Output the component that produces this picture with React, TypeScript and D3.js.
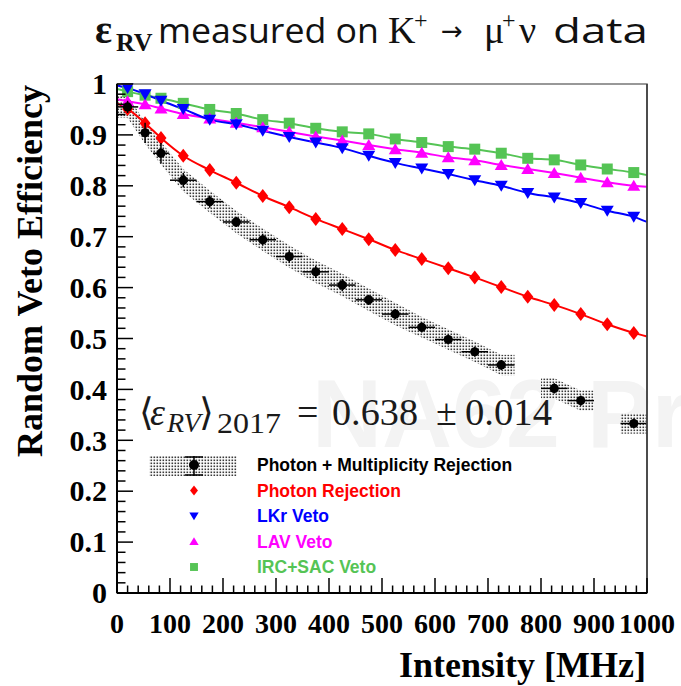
import React from 'react';
import * as d3 from 'd3';

// Beam intensity bin centres [MHz] and half-widths of the bins
const intensity = [20, 53, 83, 125, 175, 225, 275, 325, 375, 425, 475, 525, 575, 625, 675, 725, 775, 825, 875, 925, 975];
const halfBin = [20, 12, 15, 25, 25, 25, 25, 25, 25, 25, 25, 25, 25, 25, 25, 25, 25, 25, 25, 25, 25];

// Photon + multiplicity rejection (null = no measurement in that bin)
const multRej = [0.955, 0.904, 0.864, 0.811, 0.769, 0.729, 0.694, 0.661, 0.631, 0.605, 0.576, 0.548, 0.522, 0.498, 0.474, 0.448, null, 0.402, 0.378, null, 0.333];
const multErr = [0.012, 0.02, 0.02, 0.014, 0.012, 0.01, 0.012, 0.012, 0.012, 0.012, 0.01, 0.01, 0.01, 0.01, 0.01, 0.01, 0.01, 0.01, 0.01, 0.01, 0.01];
const multSyst = [0.022, 0.022, 0.022, 0.022, 0.022, 0.022, 0.022, 0.022, 0.022, 0.022, 0.022, 0.022, 0.02, 0.02, 0.02, 0.02, 0.02, 0.02, 0.02, 0.02, 0.02];

// Single-detector efficiencies
const photonRej = [0.951, 0.923, 0.894, 0.859, 0.831, 0.806, 0.780, 0.758, 0.735, 0.715, 0.695, 0.674, 0.656, 0.638, 0.620, 0.601, 0.582, 0.566, 0.548, 0.528, 0.511];
const lkrVeto = [0.992, 0.980, 0.967, 0.951, 0.930, 0.921, 0.908, 0.896, 0.885, 0.874, 0.859, 0.845, 0.834, 0.823, 0.811, 0.800, 0.786, 0.777, 0.766, 0.751, 0.739];
const lavVeto = [0.966, 0.960, 0.952, 0.941, 0.932, 0.924, 0.915, 0.906, 0.897, 0.889, 0.880, 0.872, 0.865, 0.856, 0.850, 0.841, 0.833, 0.825, 0.816, 0.807, 0.800];
const ircSacVeto = [0.985, 0.978, 0.972, 0.962, 0.950, 0.942, 0.930, 0.923, 0.913, 0.906, 0.902, 0.892, 0.885, 0.877, 0.872, 0.864, 0.854, 0.851, 0.841, 0.833, 0.826];

// Fit curve values at 0 and 1000 MHz
const photonFitEnds = [0.962, 0.504];
const lkrFitEnds = [0.997, 0.729];
const lavFitEnds = [0.970, 0.798];
const ircFitEnds = [0.990, 0.821];

const xTickLabels = ['0', '100', '200', '300', '400', '500', '600', '700', '800', '900', '1000'];
const yTickLabels = ['0', '0.1', '0.2', '0.3', '0.4', '0.5', '0.6', '0.7', '0.8', '0.9', '1'];

const legendLabels = ['Photon + Multiplicity Rejection', 'Photon Rejection', 'LKr Veto', 'LAV Veto', 'IRC+SAC Veto'];

const RED = '#ff0000';
const BLUE = '#0000ff';
const MAGENTA = '#ff00ff';
const GREEN = '#55c455';

const W = 681;
const H = 686;
const x = d3.scaleLinear().domain([0, 1000]).range([117, 647]);
const y = d3.scaleLinear().domain([0, 1]).range([593, 84]);

type Shape = 'diamond' | 'tdown' | 'tup' | 'square';
const markerPath = (s: Shape, k = 1) => {
  const p = d3.path();
  if (s === 'diamond') {
    p.moveTo(0, -7 * k); p.lineTo(5.5 * k, 0); p.lineTo(0, 7 * k); p.lineTo(-5.5 * k, 0);
  } else if (s === 'tdown') {
    p.moveTo(0, 6 * k); p.lineTo(6.5 * k, -5 * k); p.lineTo(-6.5 * k, -5 * k);
  } else if (s === 'tup') {
    p.moveTo(0, -6 * k); p.lineTo(6.5 * k, 5 * k); p.lineTo(-6.5 * k, 5 * k);
  } else {
    p.rect(-5.5 * k, -5.5 * k, 11 * k, 11 * k);
  }
  p.closePath();
  return p.toString();
};

const fitSeries = [
  { values: ircSacVeto, ends: ircFitEnds, color: GREEN, shape: 'square' as Shape },
  { values: lavVeto, ends: lavFitEnds, color: MAGENTA, shape: 'tup' as Shape },
  { values: lkrVeto, ends: lkrFitEnds, color: BLUE, shape: 'tdown' as Shape },
  { values: photonRej, ends: photonFitEnds, color: RED, shape: 'diamond' as Shape },
];

const line = d3
  .line<[number, number]>()
  .x((d) => x(d[0]))
  .y((d) => y(d[1]))
  .curve(d3.curveMonotoneX);

const band = d3
  .area<{ i: number; v: number; s: number }>()
  .x((d) => x(d.i))
  .y0((d) => y(d.v - d.s))
  .y1((d) => y(d.v + d.s));

// Contiguous runs of measured bins, widened to the outer bin edges
const bandRuns = (() => {
  const runs: { i: number; v: number; s: number }[][] = [];
  let cur: { i: number; v: number; s: number }[] = [];
  intensity.forEach((xi, k) => {
    const v = multRej[k];
    if (v == null) {
      if (cur.length) runs.push(cur);
      cur = [];
    } else {
      cur.push({ i: xi, v, s: multSyst[k] });
    }
  });
  if (cur.length) runs.push(cur);
  return runs.map((r) => {
    const first = r[0];
    const last = r[r.length - 1];
    const kf = intensity.indexOf(first.i);
    const kl = intensity.indexOf(last.i);
    return [{ ...first, i: first.i - halfBin[kf] }, ...r, { ...last, i: last.i + halfBin[kl] }];
  });
})();

export default function App() {
  const serif = 'Liberation Serif, Times New Roman, serif';
  const sans = 'Liberation Sans, Arial, sans-serif';
  const xMinor = d3.range(0, 1001, 20);
  const yMinor = d3.range(0, 1.0001, 0.02);
  const legendY = [465, 490.5, 516, 541.5, 567];

  return (
    <svg width={W} height={H} style={{ position: 'absolute', left: 0, top: 0, background: '#fff' }}>
      <defs>
        <pattern id="dots" width="3" height="3" patternUnits="userSpaceOnUse">
          <rect width="3" height="3" fill="#fff" />
          <rect x="0.5" y="0.5" width="1.6" height="1.6" fill="#3a3a3a" />
        </pattern>
      </defs>
      <rect width={W} height={H} fill="#fff" />

      {/* Watermark */}
      <text x={312} y={447} fontFamily={sans} fontWeight="bold" fontSize={97} fill="#f3f3f3">
        NA62 Preliminary
      </text>

      {/* Title */}
      <g fill="#111">
        <text x={95} y={43} fontFamily={serif} fontWeight="bold" fontSize={40}>ε</text>
        <text x={116} y={51} fontFamily={serif} fontWeight="bold" fontSize={26}>RV</text>
        <text x={158} y={43} fontFamily="Open Sans, sans-serif" fontSize={35} textLength={221} lengthAdjust="spacingAndGlyphs">measured on</text>
        <text x={388} y={43} fontFamily={serif} fontSize={38}>K</text>
        <text x={414} y={28} fontFamily={serif} fontSize={24}>+</text>
        <text x={441} y={40} fontFamily="DejaVu Sans, sans-serif" fontSize={26}>→</text>
        <text x={484} y={43} fontFamily={serif} fontSize={38}>μ</text>
        <text x={502} y={28} fontFamily={serif} fontSize={24}>+</text>
        <text x={519} y={43} fontFamily={serif} fontSize={38}>ν</text>
        <text x={553} y={43} fontFamily="Open Sans, sans-serif" fontSize={35} textLength={95} lengthAdjust="spacingAndGlyphs">data</text>
      </g>

      {/* Systematic band of the combined rejection */}
      {bandRuns.map((r, k) => (
        <path key={k} d={band(r) || ''} fill="url(#dots)" stroke="none" />
      ))}

      {/* Fit curves */}
      {fitSeries.map((s, k) => {
        const pts: [number, number][] = [[0, s.ends[0]], ...intensity.map((xi, j) => [xi, s.values[j]] as [number, number]), [1000, s.ends[1]]];
        return <path key={k} d={line(pts) || ''} fill="none" stroke={s.color} strokeWidth={2} />;
      })}

      {/* Markers */}
      {fitSeries.map((s, k) => (
        <g key={k} fill={s.color}>
          {intensity.map((xi, j) => (
            <path key={j} transform={`translate(${x(xi)},${y(s.values[j])})`} d={markerPath(s.shape)} />
          ))}
        </g>
      ))}

      {/* Combined rejection points with error bars */}
      <g stroke="#000" strokeWidth={1.5} fill="#000">
        {intensity.map((xi, j) => {
          const v = multRej[j];
          if (v == null) return null;
          return (
            <g key={j}>
              <line x1={x(xi - halfBin[j])} x2={x(xi + halfBin[j])} y1={y(v)} y2={y(v)} />
              <line x1={x(xi)} x2={x(xi)} y1={y(v - multErr[j])} y2={y(v + multErr[j])} />
              <circle cx={x(xi)} cy={y(v)} r={4.6} stroke="none" />
            </g>
          );
        })}
      </g>

      {/* Annotation */}
      <g fill="#1a1a1a" fontFamily={serif}>
        <text x={139} y={425} fontSize={38}>⟨</text>
        <text x={150} y={425} fontSize={38} fontStyle="italic">ε</text>
        <text x={167} y={432} fontSize={28} fontStyle="italic">RV</text>
        <text x={199} y={425} fontSize={38}>⟩</text>
        <text x={217} y={433} fontSize={30} textLength={64} lengthAdjust="spacingAndGlyphs">2017</text>
        <text x={297} y={425} fontSize={38}>=</text>
        <text x={332} y={425} fontSize={38} textLength={86} lengthAdjust="spacingAndGlyphs">0.638</text>
        <text x={436} y={425} fontSize={38}>±</text>
        <text x={465} y={425} fontSize={38} textLength={87} lengthAdjust="spacingAndGlyphs">0.014</text>
      </g>

      {/* Legend */}
      <g>
        <rect x={149} y={456} width={88} height={20} fill="url(#dots)" />
        <g stroke="#000" strokeWidth={1.5}>
          <line x1={194} x2={194} y1={456} y2={476} />
          <line x1={185} x2={203} y1={457} y2={457} />
          <line x1={185} x2={203} y1={475} y2={475} />
        </g>
        <circle cx={194} cy={legendY[0]} r={5} fill="#000" />
        {fitSeries
          .slice()
          .reverse()
          .map((s, k) => (
            <path key={k} transform={`translate(194,${legendY[k + 1]})`} d={markerPath(s.shape, 0.72)} fill={s.color} />
          ))}
        {legendLabels.map((t, k) => {
          const colors = ['#000', RED, BLUE, MAGENTA, GREEN];
          return (
            <text key={k} x={257} y={legendY[k]} dy="0.36em" fontFamily={sans} fontWeight="bold" fontSize={17.5} fill={colors[k]}>
              {t}
            </text>
          );
        })}
      </g>

      {/* Frame */}
      <rect x={x(0)} y={y(1)} width={x(1000) - x(0)} height={y(0) - y(1)} fill="none" stroke="#777" strokeWidth={1.5} />
      <line x1={x(1000)} x2={x(1000)} y1={y(1)} y2={y(0)} stroke="#333" strokeWidth={1.5} />

      {/* Axes */}
      <g stroke="#000" strokeWidth={1.5}>
        <line x1={x(0)} x2={x(1000)} y1={y(0)} y2={y(0)} strokeWidth={2} />
        <line x1={x(0)} x2={x(0)} y1={y(0)} y2={y(1)} strokeWidth={2} />
        {xMinor.map((v) => (
          <line key={v} x1={x(v)} x2={x(v)} y1={y(0)} y2={y(0) - (v % 100 === 0 ? 15 : 7.5)} />
        ))}
        {yMinor.map((v, k) => (
          <line key={k} x1={x(0)} x2={x(0) + (k % 5 === 0 ? 16 : 8.5)} y1={y(v)} y2={y(v)} />
        ))}
      </g>
      <g fontFamily={serif} fontWeight="bold" fill="#000">
        {xTickLabels.map((t, k) => (
          <text key={t} x={x(k * 100)} y={633} textAnchor="middle" fontSize={28}>
            {t}
          </text>
        ))}
        {yTickLabels.map((t, k) => (
          <text key={t} x={107} y={y(k / 10)} dy="0.34em" textAnchor="end" fontSize={30}>
            {t}
          </text>
        ))}
        <text x={646} y={677} textAnchor="end" fontSize={36}>
          Intensity [MHz]
        </text>
        <text transform="translate(42,85) rotate(-90)" textAnchor="end" fontSize={36}>
          Random Veto Efficiency
        </text>
      </g>
    </svg>
  );
}
